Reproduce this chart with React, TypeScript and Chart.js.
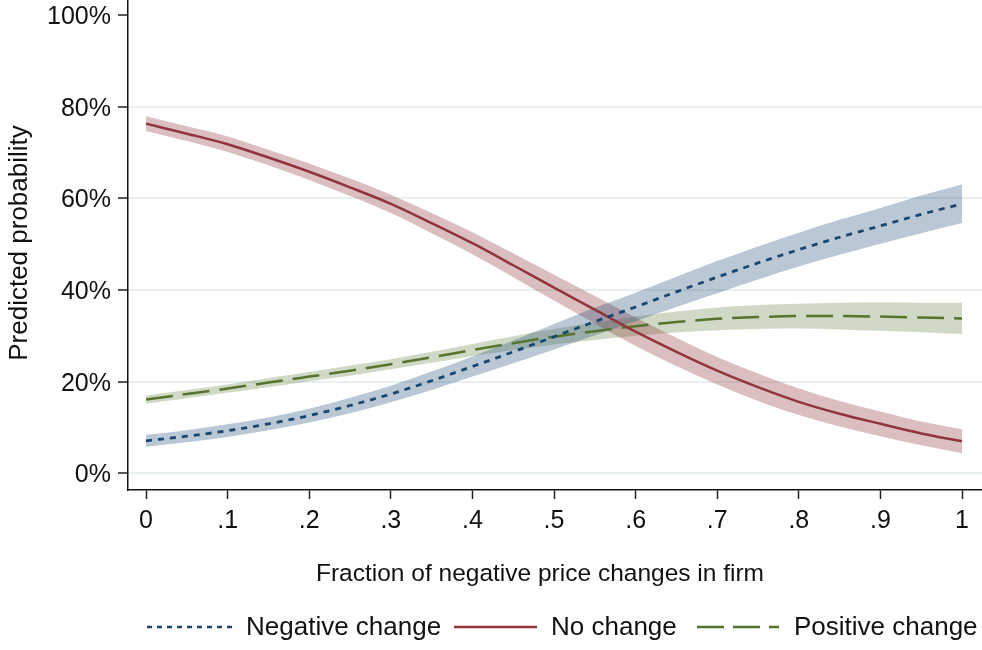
import React, { useEffect, useRef } from "react";
import { Chart, registerables } from "chart.js";

Chart.register(...registerables);

// Fraction of negative price changes in the firm (x axis)
const fractions = [
  0, 0.05, 0.1, 0.15, 0.2, 0.25, 0.3, 0.35, 0.4, 0.45, 0.5,
  0.55, 0.6, 0.65, 0.7, 0.75, 0.8, 0.85, 0.9, 0.95, 1,
];

// Predicted probability (%) and confidence band for each outcome
const negativeMid = [7.1, 8.1, 9.3, 10.8, 12.6, 14.8, 17.3, 20.2, 23.3, 26.5, 29.8, 33.1, 36.3, 39.6, 42.8, 45.9, 48.8, 51.5, 54.0, 56.5, 58.8];
const negativeLow = [5.8, 6.8, 7.9, 9.4, 11.1, 13.1, 15.5, 18.2, 21.1, 24.0, 27.0, 30.1, 33.2, 36.3, 39.3, 42.3, 45.1, 47.7, 50.1, 52.4, 54.6];
const negativeHigh = [8.4, 9.4, 10.7, 12.2, 14.1, 16.5, 19.1, 22.2, 25.5, 29.0, 32.6, 36.1, 39.4, 42.9, 46.3, 49.5, 52.5, 55.3, 57.9, 60.6, 63.0];

const noChangeMid = [76.3, 74.1, 71.8, 68.9, 65.8, 62.4, 58.8, 54.6, 50.2, 45.4, 40.5, 35.7, 30.9, 26.5, 22.4, 18.8, 15.6, 13.0, 10.8, 8.7, 7.0];
const noChangeLow = [74.7, 72.5, 70.1, 67.2, 64.0, 60.5, 56.8, 52.4, 47.8, 42.8, 37.7, 32.7, 27.8, 23.4, 19.4, 15.8, 12.7, 10.2, 8.1, 6.1, 4.4];
const noChangeHigh = [77.9, 75.7, 73.5, 70.6, 67.6, 64.3, 60.8, 56.8, 52.6, 48.0, 43.3, 38.7, 34.0, 29.6, 25.4, 21.8, 18.5, 15.8, 13.5, 11.3, 9.6];

const positiveMid = [16.1, 17.3, 18.5, 19.8, 21.1, 22.4, 23.8, 25.3, 26.9, 28.4, 29.8, 31.0, 32.1, 33.0, 33.7, 34.1, 34.3, 34.3, 34.2, 34.0, 33.8];
const positiveLow = [15.2, 16.4, 17.6, 18.8, 20.1, 21.3, 22.7, 24.1, 25.6, 26.9, 28.1, 29.1, 30.0, 30.7, 31.2, 31.5, 31.6, 31.4, 31.1, 30.8, 30.4];
const positiveHigh = [17.0, 18.2, 19.4, 20.8, 22.1, 23.5, 24.9, 26.5, 28.2, 29.9, 31.5, 32.9, 34.2, 35.3, 36.2, 36.7, 37.0, 37.2, 37.3, 37.2, 37.2];

const xTickValues = [0, 0.1, 0.2, 0.3, 0.4, 0.5, 0.6, 0.7, 0.8, 0.9, 1];
const xTickLabels = ["0", ".1", ".2", ".3", ".4", ".5", ".6", ".7", ".8", ".9", "1"];
const yTickValues = [0, 20, 40, 60, 80, 100];
const yTickLabels = ["0%", "20%", "40%", "60%", "80%", "100%"];

const seriesNames = ["Negative change", "No change", "Positive change"];

const NAVY = "#1a476f";
const MAROON = "#90353b";
const FOREST = "#55752f";
const FONT = '"Liberation Sans", Arial, Helvetica, sans-serif';
const TOP_PAD = 40;

const pts = (ys: number[]) => fractions.map((x, i) => ({ x, y: ys[i] }));

const lineStyle = (color: string, dash: number[], width: number) => ({
  borderColor: color,
  borderWidth: width,
  borderDash: dash,
  pointRadius: 0,
  fill: false,
  cubicInterpolationMode: "monotone" as const,
  order: 0,
});

const band = (lo: number[], hi: number[], fillColor: string, loIndex: number) => [
  {
    data: pts(lo),
    borderWidth: 0,
    borderColor: "transparent",
    pointRadius: 0,
    fill: false,
    cubicInterpolationMode: "monotone" as const,
    order: 1,
  },
  {
    data: pts(hi),
    borderWidth: 0,
    borderColor: "transparent",
    backgroundColor: fillColor,
    pointRadius: 0,
    fill: { target: loIndex },
    cubicInterpolationMode: "monotone" as const,
    order: 1,
  },
];

const legendItems = [
  { name: seriesNames[0], color: NAVY, dash: [5, 5], width: 2.5, x1: 147, x2: 232, tx: 246 },
  { name: seriesNames[1], color: MAROON, dash: [], width: 2.5, x1: 454, x2: 537, tx: 551 },
  { name: seriesNames[2], color: FOREST, dash: [27, 9], width: 2.5, x1: 697, x2: 779, tx: 794 },
];

const annotations = {
  id: "annotations",
  afterDraw(chart: any) {
    const ctx = chart.ctx as CanvasRenderingContext2D;
    ctx.save();
    ctx.fillStyle = "#111";
    ctx.font = `24.5px ${FONT}`;
    ctx.textAlign = "center";
    ctx.textBaseline = "middle";
    ctx.fillText("Fraction of negative price changes in firm", 540, 574 + TOP_PAD);

    ctx.save();
    ctx.translate(20, 243 + TOP_PAD);
    ctx.rotate(-Math.PI / 2);
    ctx.font = `26px ${FONT}`;
    ctx.fillText("Predicted probability", 0, 0);
    ctx.restore();

    const ly = 627 + TOP_PAD;
    ctx.font = `26px ${FONT}`;
    ctx.textAlign = "left";
    for (const it of legendItems) {
      ctx.beginPath();
      ctx.strokeStyle = it.color;
      ctx.lineWidth = it.width;
      ctx.setLineDash(it.dash);
      ctx.moveTo(it.x1, ly);
      ctx.lineTo(it.x2, ly);
      ctx.stroke();
      ctx.setLineDash([]);
      ctx.fillStyle = "#111";
      ctx.fillText(it.name, it.tx, ly + 1);
    }
    ctx.restore();
  },
};

export default function App() {
  const ref = useRef<HTMLCanvasElement | null>(null);

  useEffect(() => {
    if (!ref.current) return;
    const datasets: any[] = [
      { label: seriesNames[0], data: pts(negativeMid), ...lineStyle(NAVY, [6, 6], 2.8) },
      { label: seriesNames[1], data: pts(noChangeMid), ...lineStyle(MAROON, [], 2.5) },
      { label: seriesNames[2], data: pts(positiveMid), ...lineStyle(FOREST, [27, 10], 2.5) },
      ...band(negativeLow, negativeHigh, "rgba(26,71,111,0.30)", 3),
      ...band(noChangeLow, noChangeHigh, "rgba(144,53,59,0.32)", 5),
      ...band(positiveLow, positiveHigh, "rgba(85,117,47,0.28)", 7),
    ];

    const chart = new Chart(ref.current, {
      type: "line",
      data: { datasets },
      plugins: [annotations],
      options: {
        animation: false,
        responsive: false,
        devicePixelRatio: 1,
        layout: { padding: { top: TOP_PAD, left: 0, right: 0, bottom: 0 } },
        plugins: { legend: { display: false }, tooltip: { enabled: false } },
        scales: {
          x: {
            type: "linear",
            min: -0.0221,
            max: 1.0245,
            afterBuildTicks: (s: any) => {
              s.ticks = xTickValues.map((v) => ({ value: v }));
            },
            afterFit: (s: any) => {
              s.height = 160;
            },
            ticks: {
              autoSkip: false,
              maxRotation: 0,
              padding: 7,
              color: "#111",
              font: { family: FONT, size: 25 },
              callback: (v: any) => xTickLabels[xTickValues.indexOf(Math.round(Number(v) * 10) / 10)],
            },
            grid: {
              drawOnChartArea: false,
              drawTicks: true,
              tickLength: 9,
              tickColor: "#222",
              tickWidth: 1.5,
            },
            border: { color: "#111", width: 1.5 },
          },
          y: {
            type: "linear",
            min: -3.64,
            max: 103.27,
            afterBuildTicks: (s: any) => {
              s.ticks = yTickValues.map((v) => ({ value: v }));
            },
            afterFit: (s: any) => {
              s.width = 128;
            },
            ticks: {
              autoSkip: false,
              padding: 7,
              labelOffset: 2,
              color: "#111",
              font: { family: FONT, size: 25 },
              callback: (v: any) => yTickLabels[yTickValues.indexOf(Number(v))],
            },
            grid: {
              color: (c: any) => (c.tick && c.tick.value === 100 ? "rgba(0,0,0,0)" : "#e8f0f1"),
              lineWidth: 2,
              drawTicks: true,
              tickLength: 10,
              tickColor: "#222",
              tickWidth: 1.5,
            },
            border: { color: "#111", width: 1.5 },
          },
        },
      },
    });
    return () => chart.destroy();
  }, []);

  return (
    <canvas
      ref={ref}
      width={982}
      height={690}
      style={{ position: "absolute", left: 0, top: -TOP_PAD, width: 982, height: 690 }}
    />
  );
}
